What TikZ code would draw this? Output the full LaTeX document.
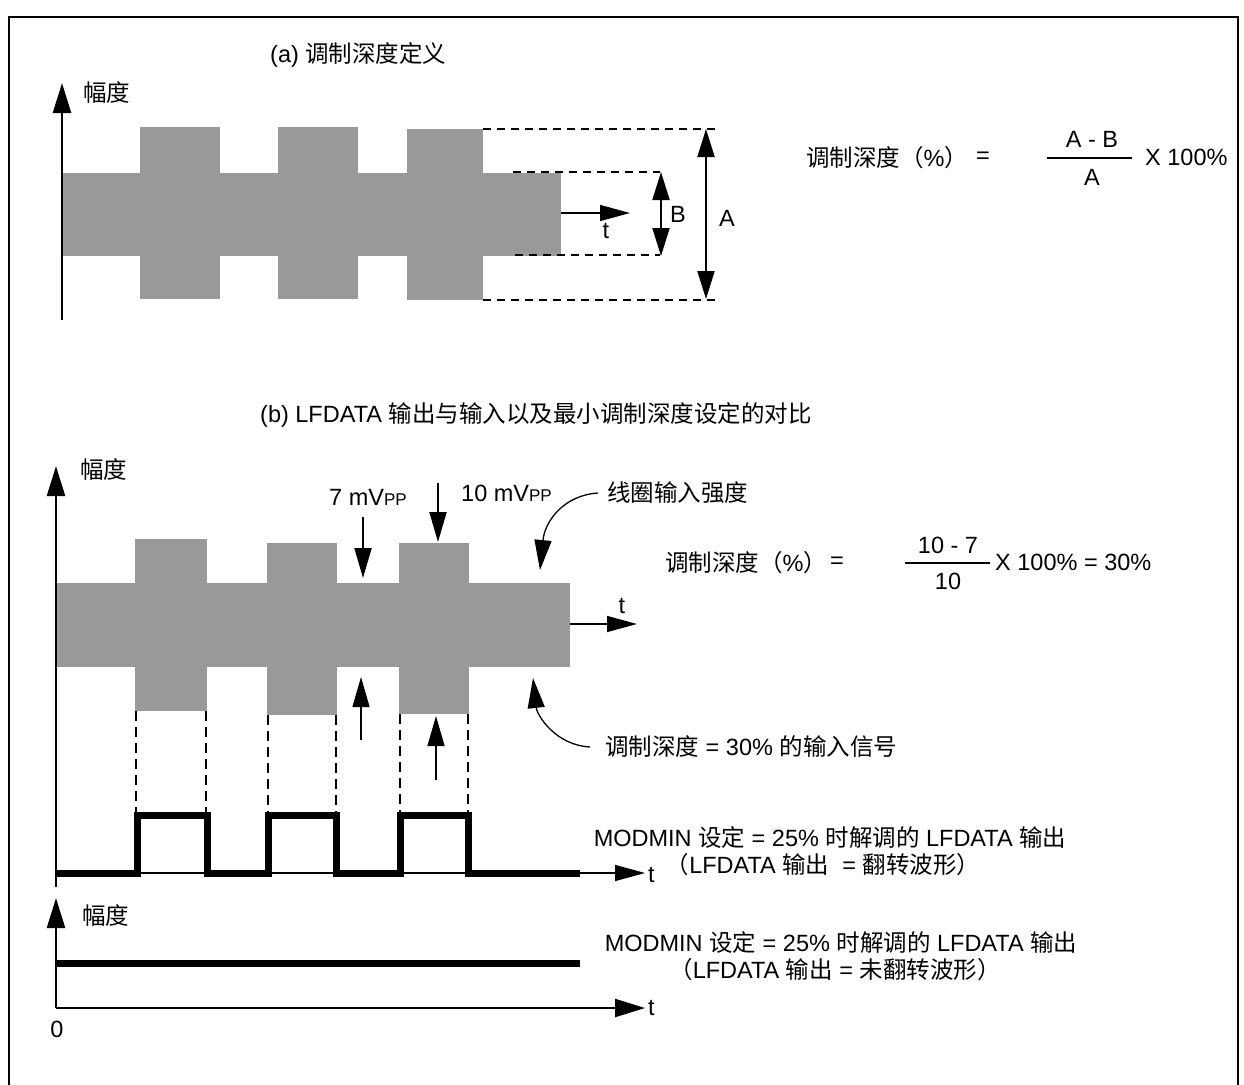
\documentclass[tikz,border=0pt]{standalone}
\usepackage{fontspec}
\setmainfont{Liberation Sans}
\newfontfamily\cjk{Noto Sans CJK SC}
\usetikzlibrary{arrows.meta,positioning}
\definecolor{bandgray}{HTML}{999999}

\begin{document}
\begin{tikzpicture}[x=1pt,y=-1pt,
  lbl/.style={font=\fontsize{23.5}{28}\selectfont, inner sep=0pt},
  axisline/.style={line width=2.4pt, -{Triangle[length=30pt,width=18pt]}},
  tarrow/.style={line width=1.4pt, -{Triangle[length=30pt,width=16pt]}},
  dimarrow/.style={line width=2pt, {Triangle[length=28pt,width=17pt]}-{Triangle[length=28pt,width=17pt]}},
  ptrarrow/.style={line width=2pt, -{Triangle[length=30pt,width=17pt]}},
  thinptr/.style={line width=1.3pt, -{Triangle[length=30pt,width=17pt]}},
  hdash/.style={line width=1.6pt, dash pattern=on 8pt off 6pt},
  vdash/.style={line width=1.8pt, dash pattern=on 10pt off 6pt},
  wave/.style={line width=7pt},
]
\useasboundingbox (0,0) rectangle (1244,1084);
% frame
\draw[line width=2.5pt] (9,1100) -- (9,17) -- (1238,17) -- (1238,1100);

% (a) definition
\node[lbl, anchor=west] (titleA) at (270,55) {(a) {\cjk 调制深度定义}};
\coordinate (oA) at (62,320);
\coordinate (yA) at (62,83);
\draw[axisline] (oA) -- (yA);
\node[lbl, anchor=west] (ampA) at (83,93) {\cjk 幅度};
\fill[bandgray] (63,173) rectangle (561,256);
\foreach \xa/\xb/\ya/\yb in {140/220/127/299, 278/358/127/299, 407/483/129/300}
  \fill[bandgray] (\xa,\ya) rectangle (\xb,\yb);
\draw[hdash] (483,129) -- (717,129);
\draw[hdash] (483,300) -- (717,300);
\draw[hdash] (513,172) -- (660,172);
\draw[hdash] (515,255) -- (660,255);
\coordinate (tA0) at (561,213);
\coordinate (tA1) at (630,213);
\draw[tarrow] (tA0) -- (tA1);
\node[lbl] (tA) at (606,231) {t};
\coordinate (bTop) at (661,172);
\coordinate (bBot) at (661,256);
\draw[dimarrow] (bTop) -- (bBot);
\node[lbl, anchor=west] (bLbl) at (670,214) {B};
\coordinate (aTop) at (706,129);
\coordinate (aBot) at (706,299);
\draw[dimarrow] (aTop) -- (aBot);
\node[lbl, anchor=west] (aLbl) at (719,218) {A};

% formula (a)
\node[lbl, anchor=west] (depthA) at (806,158) {{\cjk 调制深度（}\%{\cjk ）}};
\node[lbl, anchor=west] (eqA) at (976,158) {=};
\draw[line width=1.5pt] (1047,158) -- (1132,158);
\node[lbl] (numA) at (1092,139) {A - B};
\node[lbl] (denA) at (1092,177) {A};
\node[lbl, anchor=west] (mulA) at (1145,157) {X 100\%};

% (b) LFDATA comparison
\node[lbl, anchor=west] (titleB) at (260,415) {(b) LFDATA {\cjk 输出与输入以及最小调制深度设定的对比}};
\coordinate (oB) at (56,887);
\coordinate (yB) at (56,466);
\draw[axisline] (oB) -- (yB);
\node[lbl, anchor=west] (ampB) at (80,470) {\cjk 幅度};
\fill[bandgray] (57,583) rectangle (570,667);
\foreach \xa/\xb/\ya/\yb in {135/207/539/711, 267/337/543/715, 399/469/543/714}{
  \fill[bandgray] (\xa,\ya) rectangle (\xb,\yb);
  \draw[vdash] (\xa+1,\yb) -- (\xa+1,815);
  \draw[vdash] (\xb-1,\yb) -- (\xb-1,815);
}
\coordinate (tB0) at (570,624);
\coordinate (tB1) at (637,624);
\draw[tarrow] (tB0) -- (tB1);
\node[lbl] (tB) at (622,606) {t};

% peak-to-peak markers
\node[lbl] (sevenLbl) at (368,497) {7 mV{\fontsize{17}{20}\selectfont PP}};
\coordinate (sevenTop) at (363,517);
\coordinate (sevenTip) at (363,578);
\draw[ptrarrow] (sevenTop) -- (sevenTip);
\node[lbl, anchor=west] (tenLbl) at (461,493) {10 mV{\fontsize{17}{20}\selectfont PP}};
\coordinate (tenTop) at (438,483);
\coordinate (tenTip) at (438,542);
\draw[ptrarrow] (tenTop) -- (tenTip);
\coordinate (upA0) at (361,740);
\coordinate (upA1) at (361,677);
\draw[thinptr] (upA0) -- (upA1);
\coordinate (upB0) at (436,780);
\coordinate (upB1) at (436,716);
\draw[thinptr] (upB0) -- (upB1);

% curved callouts
\node[lbl, anchor=west] (coilLbl) at (607,493) {\cjk 线圈输入强度};
\coordinate (coilTip) at (540,570);
\draw[thinptr] ([xshift=-9pt]coilLbl.west) .. controls (565,495) and (545,520) .. (coilTip);
\node[lbl, anchor=west] (sigLbl) at (605,747) {{\cjk 调制深度} = 30\% {\cjk 的输入信号}};
\coordinate (sigTip) at (533,678);
\draw[thinptr] ([xshift=-15pt]sigLbl.west) .. controls (555,745) and (537,715) .. (sigTip);

% formula (b)
\node[lbl, anchor=west] (depthB) at (665,563) {{\cjk 调制深度（}\%{\cjk ）}};
\node[lbl, anchor=west] (eqB) at (830,563) {=};
\draw[line width=1.5pt] (905,563) -- (990,563);
\node[lbl] (numB) at (948,545) {10 - 7};
\node[lbl] (denB) at (948,581) {10};
\node[lbl, anchor=west] (mulB) at (995,562) {X 100\% = 30\%};

% demodulated output, inverted
\coordinate (wB0) at (56,873);
\coordinate (wB1) at (645,873);
\draw[tarrow] (wB0) -- (wB1);
\node[lbl, anchor=west] (tW) at (648,875) {t};
\draw[wave] (56,873) -- (137,873) -- (137,815) -- (207,815) -- (207,873)
  -- (268,873) -- (268,815) -- (336,815) -- (336,873)
  -- (400,873) -- (400,815) -- (468,815) -- (468,873) -- (580,873);
\node[lbl] (modA1) at (830,838) {MODMIN {\cjk 设定} = 25\% {\cjk 时解调的} LFDATA {\cjk 输出}};
\node[lbl] (modA2) at (823,865) {{\cjk （}LFDATA {\cjk 输出}\ \ = {\cjk 翻转波形）}};

% demodulated output, not inverted
\coordinate (oC) at (56,1008);
\coordinate (yC) at (56,898);
\draw[axisline] (oC) -- (yC);
\node[lbl, anchor=west] (ampC) at (82,915) {\cjk 幅度};
\draw[wave] (56,963) -- (580,963);
\coordinate (tC1) at (645,1008);
\draw[axisline] (oC) -- (tC1);
\node[lbl, anchor=west] (tC) at (648,1008) {t};
\node[lbl] (zeroC) at (57,1029) {0};
\node[lbl] (modB1) at (841,943) {MODMIN {\cjk 设定} = 25\% {\cjk 时解调的} LFDATA {\cjk 输出}};
\node[lbl] (modB2) at (835,970) {{\cjk （}LFDATA {\cjk 输出} = {\cjk 未翻转波形）}};
\end{tikzpicture}
\end{document}
